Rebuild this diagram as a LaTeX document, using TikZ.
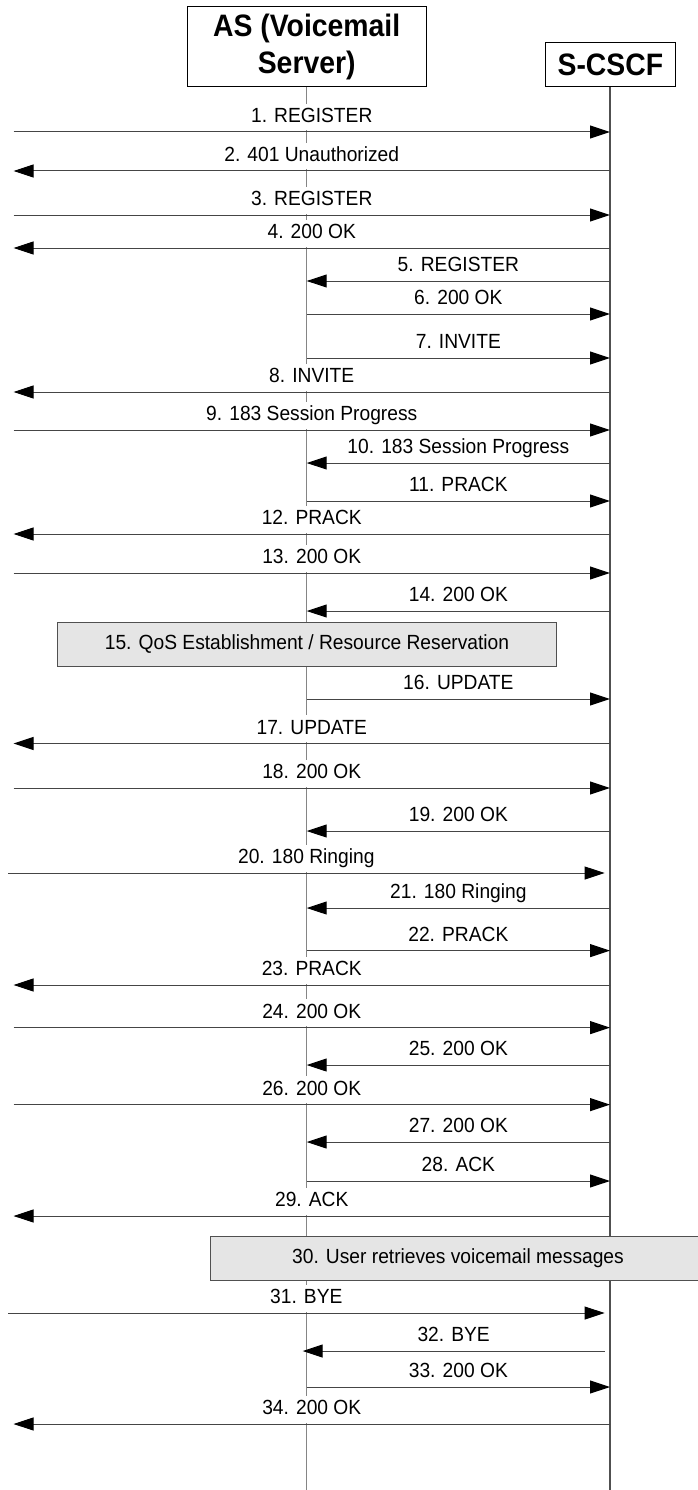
\documentclass[tikz,border=0pt]{standalone}
\usepackage{fontspec}
\setmainfont{Liberation Sans}
\newfontfamily\lblfont[FakeStretch=0.937]{Liberation Sans}
\newfontfamily\headfont[FakeStretch=0.915]{Liberation Sans}
\usetikzlibrary{arrows.meta}

\definecolor{aslinegray}{HTML}{858585}
\definecolor{cslinegray}{HTML}{505050}
\definecolor{msggray}{HTML}{454545}
\definecolor{notefill}{HTML}{E5E5E5}

\tikzset{
  head/.style={draw=black, line width=1pt, fill=white, align=center,
    font=\headfont\bfseries\fontsize{31}{37}\selectfont, inner sep=0pt},
  msg/.style={draw=msggray, line width=1pt,
    -{Triangle[length=20pt,width=13pt,color=black,fill=black]}},
  lbl/.style={above, fill=white, inner sep=4pt, text height=14.7pt, text depth=4pt,
    font=\lblfont\fontsize{20.5}{24}\selectfont, yshift=1pt},
  note/.style={draw=cslinegray, line width=1pt, fill=notefill, inner sep=0pt,
    font=\lblfont\fontsize{20.5}{24}\selectfont},
}

\begin{document}
\begin{tikzpicture}[x=1pt, y=-1pt]
  \fill[white] (0,0) rectangle (698,1490);
  \useasboundingbox (0,0) rectangle (698,1490);

  % lifeline heads
  \node[head, minimum width=238.6pt, minimum height=80.1pt] (as) at (306.7,46.75) {AS (Voicemail\\Server)};
  \node[head, minimum width=130pt, minimum height=44.5pt] (scscf) at (610.4,64.55) {S-CSCF};
  \coordinate (asend) at (306.7,1490);
  \coordinate (csend) at (610,1490);
  \draw[aslinegray, line width=1.4pt] (as.south) -- (asend);
  \draw[cslinegray, line width=1.3pt] (scscf.south -| csend) -- (csend);

  % message rows
  \foreach \i/\y in {1/132, 2/171, 3/215, 4/248, 5/281, 6/314, 7/358, 8/392,
      9/430, 10/463, 11/501, 12/534, 13/573, 14/611, 16/699, 17/743.5,
      18/788, 19/831, 20/873, 21/908, 22/950.6, 23/985, 24/1027.6,
      25/1065, 26/1104.6, 27/1142, 28/1181, 29/1216, 31/1313, 32/1351,
      33/1387, 34/1424} {
    \coordinate (ue\i) at (13.5,\y);
    \coordinate (as\i) at (306.7,\y);
    \coordinate (cs\i) at (610,\y);
  }
  \coordinate (ue20) at (8,873);
  \coordinate (cs20) at (604.6,873);
  \coordinate (ue31) at (8,1313);
  \coordinate (cs31) at (604.6,1313);
  \coordinate (cs32) at (604.6,1351);
  \coordinate (as32) at (302.7,1351);

  % boxes
  \node[note, minimum width=499pt, minimum height=44pt] (qos) at (307,644) {15. QoS Establishment / Resource Reservation};
  \node[note, minimum width=496pt, minimum height=44pt] (vmail) at (458,1258) {30. User retrieves voicemail messages};

  \draw[msg] (ue1) -- node[lbl] {1. REGISTER} (cs1);
  \draw[msg] (cs2) -- node[lbl] {2. 401 Unauthorized} (ue2);
  \draw[msg] (ue3) -- node[lbl] {3. REGISTER} (cs3);
  \draw[msg] (cs4) -- node[lbl] {4. 200 OK} (ue4);
  \draw[msg] (cs5) -- node[lbl] {5. REGISTER} (as5);
  \draw[msg] (as6) -- node[lbl] {6. 200 OK} (cs6);
  \draw[msg] (as7) -- node[lbl] {7. INVITE} (cs7);
  \draw[msg] (cs8) -- node[lbl] {8. INVITE} (ue8);
  \draw[msg] (ue9) -- node[lbl] {9. 183 Session Progress} (cs9);
  \draw[msg] (cs10) -- node[lbl] {10. 183 Session Progress} (as10);
  \draw[msg] (as11) -- node[lbl] {11. PRACK} (cs11);
  \draw[msg] (cs12) -- node[lbl] {12. PRACK} (ue12);
  \draw[msg] (ue13) -- node[lbl] {13. 200 OK} (cs13);
  \draw[msg] (cs14) -- node[lbl] {14. 200 OK} (as14);
  \draw[msg] (as16) -- node[lbl] {16. UPDATE} (cs16);
  \draw[msg] (cs17) -- node[lbl] {17. UPDATE} (ue17);
  \draw[msg] (ue18) -- node[lbl] {18. 200 OK} (cs18);
  \draw[msg] (cs19) -- node[lbl] {19. 200 OK} (as19);
  \draw[msg] (ue20) -- node[lbl] {20. 180 Ringing} (cs20);
  \draw[msg] (cs21) -- node[lbl] {21. 180 Ringing} (as21);
  \draw[msg] (as22) -- node[lbl] {22. PRACK} (cs22);
  \draw[msg] (cs23) -- node[lbl] {23. PRACK} (ue23);
  \draw[msg] (ue24) -- node[lbl] {24. 200 OK} (cs24);
  \draw[msg] (cs25) -- node[lbl] {25. 200 OK} (as25);
  \draw[msg] (ue26) -- node[lbl] {26. 200 OK} (cs26);
  \draw[msg] (cs27) -- node[lbl] {27. 200 OK} (as27);
  \draw[msg] (as28) -- node[lbl] {28. ACK} (cs28);
  \draw[msg] (cs29) -- node[lbl] {29. ACK} (ue29);
  \draw[msg] (ue31) -- node[lbl] {31. BYE} (cs31);
  \draw[msg] (cs32) -- node[lbl] {32. BYE} (as32);
  \draw[msg] (as33) -- node[lbl] {33. 200 OK} (cs33);
  \draw[msg] (cs34) -- node[lbl] {34. 200 OK} (ue34);
\end{tikzpicture}
\end{document}
